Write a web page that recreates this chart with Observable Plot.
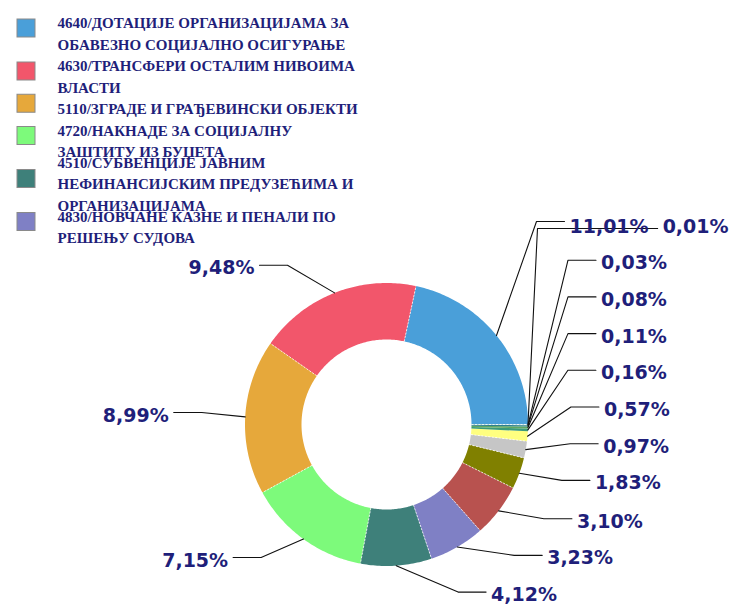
<!DOCTYPE html>
<html>
<head>
<meta charset="utf-8">
<script src="https://cdn.jsdelivr.net/npm/d3@7"></script>
<script src="https://cdn.jsdelivr.net/npm/@observablehq/plot@0.6"></script>
<style>
  html, body { margin: 0; padding: 0; background: #ffffff; }
  #chart svg { display: block; }
</style>
</head>
<body>
<div id="chart"></div>
<script>
// ---- data ----
const sliceValues = [11.01, 9.48, 8.99, 7.15, 4.12, 3.23, 3.10, 1.83, 0.97, 0.57, 0.16, 0.11, 0.08, 0.03, 0.01];
const sliceColors = ["#4a9fd9", "#f2566b", "#e6a83b", "#7dfa7b", "#3e807a", "#7f80c5", "#b8524f", "#808000",
                     "#c6c6c6", "#ffff80", "#3a9a7a", "#5fa860", "#2f7f8f", "#99cc99", "#e8f4ff"];
const legendLabels = [
  "4640/ДОТАЦИЈЕ ОРГАНИЗАЦИЈАМА ЗА\nОБАВЕЗНО СОЦИЈАЛНО ОСИГУРАЊЕ",
  "4630/ТРАНСФЕРИ ОСТАЛИМ НИВОИМА\nВЛАСТИ",
  "5110/ЗГРАДЕ И ГРАЂЕВИНСКИ ОБЈЕКТИ",
  "4720/НАКНАДЕ ЗА СОЦИЈАЛНУ\nЗАШТИТУ ИЗ БУЏЕТА",
  "4510/СУБВЕНЦИЈЕ ЈАВНИМ\nНЕФИНАНСИЈСКИМ ПРЕДУЗЕЋИМА И\nОРГАНИЗАЦИЈАМА",
  "4830/НОВЧАНЕ КАЗНЕ И ПЕНАЛИ ПО\nРЕШЕЊУ СУДОВА"
];
const legendColors = ["#4a9fd9", "#f2566b", "#e6a83b", "#7dfa7b", "#3e807a", "#7f80c5"];

// ---- layout ----
const W = 740, H = 605;
const cx = 386, cy = 424, R = 141.5, r0 = 85;
const navy = "#1f1f7a";
const labelFont = "DejaVu Sans";
const labelSize = 19;

const fmt = v => v.toFixed(2).replace(".", ",") + "%";
const pie = d3.pie().sort(null).startAngle(Math.PI / 2).endAngle(Math.PI / 2 - 2 * Math.PI);
const arcs = pie(sliceValues);
const pt = (a, r) => [cx + r * Math.sin(a), cy - r * Math.cos(a)];

// slice polygons
const polyPts = [];
arcs.forEach((d, i) => {
  const span = d.endAngle - d.startAngle;
  const n = Math.max(2, Math.ceil(Math.abs(span) / 0.015));
  for (let k = 0; k <= n; k++) {
    const [x, y] = pt(d.startAngle + span * k / n, R);
    polyPts.push({i, x, y, c: sliceColors[i]});
  }
  for (let k = n; k >= 0; k--) {
    const [x, y] = pt(d.startAngle + span * k / n, r0);
    polyPts.push({i, x, y, c: sliceColors[i]});
  }
});
// separators
const seps = arcs.slice(0, 10).map(d => {
  const [x1, y1] = pt(d.startAngle, r0);
  const [x2, y2] = pt(d.startAngle, R);
  return {x1, y1, x2, y2};
});

// labels
const ctx = document.createElement("canvas").getContext("2d");
ctx.font = `bold ${labelSize}px "${labelFont}"`;
const Ry = 171, RyLeft = 168, Re = 185, gap = 36.7, yTop = 226, yBottom = 595;
const labs = arcs.map((d, i) => {
  const m = (d.startAngle + d.endAngle) / 2;
  const [px, py] = pt(m, R);
  const right = Math.sin(m) >= 0;
  return {i, m, px, py, right, ny: cy - (right ? Ry : RyLeft) * Math.cos(m),
          text: fmt(sliceValues[i]), w: ctx.measureText(fmt(sliceValues[i])).width};
});
const rights = labs.filter(d => d.right).sort((a, b) => b.ny - a.ny);
let prev = Infinity;
for (const d of rights) {
  let y = Math.min(d.ny, yBottom, prev - gap);
  y = Math.max(y, yTop);
  d.y = y; prev = y;
  d.ex = Math.max(cx + Math.sqrt(Math.max(0, Re * Re - (y - cy) ** 2)), d.px + 40);
  d.tx = d.ex + 33;
  d.ly = y - 3;
  d.hx = d.ex + 28;
}
// resolve row collisions at the top (top-down)
const topDown = rights.slice().sort((a, b) => a.y - b.y);
for (let k = 1; k < topDown.length; k++) {
  const a = topDown[k - 1], b = topDown[k];
  if (Math.abs(b.y - a.y) < gap / 2) {
    const first = a.i < b.i ? a : b, second = a.i < b.i ? b : a;
    second.ex = first.ex + 1;
    second.tx = Math.max(second.tx, first.tx + first.w + 14);
    second.hx = second.tx - 5;
    second.ly = second.y + 2;
    first.ly = first.y - 5;
  }
}
const lefts = labs.filter(d => !d.right);
for (const d of lefts) {
  d.y = Math.max(yTop, Math.min(yBottom, d.ny));
  d.ex = cx - Math.sqrt(Math.max(0, Re * Re - (d.y - cy) ** 2));
  d.tx = d.ex - 33;
  d.hx = d.ex - 28;
  d.ly = d.y - 3;
}
const leaderPts = [];
for (const d of labs) {
  leaderPts.push({i: d.i, x: d.px, y: d.py});
  leaderPts.push({i: d.i, x: d.ex, y: d.ly});
  leaderPts.push({i: d.i, x: d.hx, y: d.ly});
}

// legend layout
const legLine = 21.5;
const legSize = 15;
const legItems = [];
let c = 28, prevH = 0;
legendLabels.forEach((t, i) => {
  const lines = t.split("\n").length;
  const h = legLine * Math.min(lines, 2);
  if (i > 0) c += (prevH + h) / 2;
  prevH = h;
  legItems.push({t, color: legendColors[i], cy: c, ty: c + 3.5, x1: 17, x2: 35, y1: c - 9, y2: c + 9});
});

const chart = Plot.plot({
  width: W, height: H,
  margin: 0,
  x: {domain: [0, W], range: [0, W], axis: null},
  y: {domain: [0, H], range: [0, H], axis: null},
  color: {type: "identity"},
  style: {background: "#ffffff"},
  marks: [
    Plot.line(polyPts, {x: "x", y: "y", z: "i", fill: "c", stroke: "none", curve: "linear"}),
    Plot.link(seps, {x1: "x1", y1: "y1", x2: "x2", y2: "y2", stroke: "#ffffff", strokeWidth: 0.9, strokeDasharray: "2,1.5", strokeOpacity: 0.85}),
    Plot.line(leaderPts, {x: "x", y: "y", z: "i", stroke: "#111111", strokeWidth: 1.1, curve: "linear"}),
    Plot.text(labs.filter(d => d.right), {x: "tx", y: "y", text: "text", textAnchor: "start", lineAnchor: "middle",
      fontFamily: labelFont, fontWeight: "bold", fontSize: labelSize, fill: navy}),
    Plot.text(labs.filter(d => !d.right), {x: "tx", y: "y", text: "text", textAnchor: "end", lineAnchor: "middle",
      fontFamily: labelFont, fontWeight: "bold", fontSize: labelSize, fill: navy}),
    Plot.rect(legItems, {x1: "x1", x2: "x2", y1: "y1", y2: "y2", fill: "color", stroke: "#8a8a8a", strokeWidth: 1}),
    Plot.text(legItems, {x: 57, y: "ty", text: "t", textAnchor: "start", lineAnchor: "middle", lineHeight: legLine / legSize,
      fontFamily: "Liberation Serif", fontWeight: "bold", fontSize: legSize, fill: navy})
  ]
});
document.getElementById("chart").appendChild(chart);
</script>
</body>
</html>
